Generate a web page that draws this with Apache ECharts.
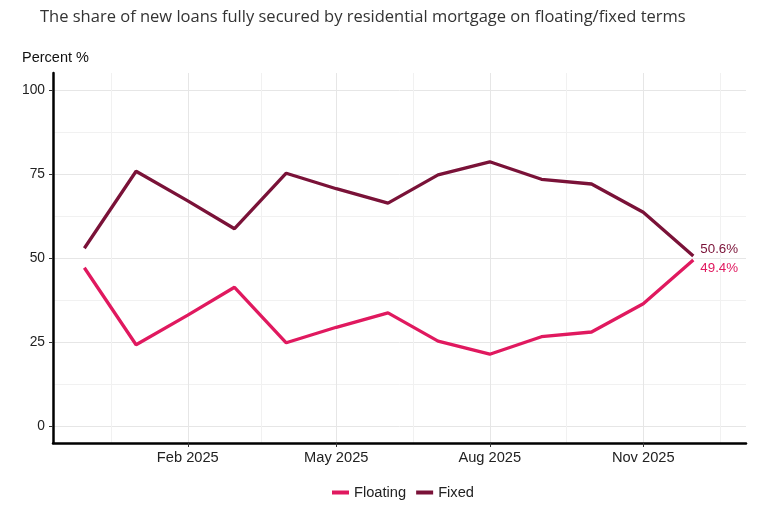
<!DOCTYPE html>
<html><head><meta charset="utf-8">
<script src="https://cdn.jsdelivr.net/npm/echarts@6/dist/echarts.min.js"></script>
<style>html,body{margin:0;padding:0;background:#fff}#c{width:760px;height:505px}</style>
</head><body><div id="c"></div>
<script>
const months = ['2024-12','2025-01','2025-02','2025-03','2025-04','2025-05','2025-06','2025-07','2025-08','2025-09','2025-10','2025-11','2025-12'];
const floating = [47.1, 24.2, 33.0, 41.3, 24.8, 29.4, 33.7, 25.3, 21.4, 26.6, 28.0, 36.4, 49.4];
const fixed    = [52.9, 75.8, 67.0, 58.7, 75.2, 70.6, 66.3, 74.7, 78.6, 73.4, 72.0, 63.6, 50.6];
const xTickDates = ['2025-02-01','2025-05-01','2025-08-01','2025-11-01'];
const xMinorDates = ['2024-12-17','2025-03-17','2025-06-16','2025-09-16','2025-12-17'];
const yTicks = [0, 25, 50, 75, 100];
const yMinorTicks = [12.5, 37.5, 62.5, 87.5];
const monthNames = ['Jan','Feb','Mar','Apr','May','Jun','Jul','Aug','Sep','Oct','Nov','Dec'];

function ts(s){ const p = s.split('-').map(Number); return Date.UTC(p[0], p[1]-1, p[2]||1); }
const xMin = ts('2024-11-12') + 5*3600e3;
const xMax = ts('2026-01-01') + 14*3600e3;
const FONT = '"Liberation Sans", Arial, sans-serif';
const PINK = '#E0195F', MAROON = '#7A1238';

const chart = echarts.init(document.getElementById('c'), null, {renderer:'canvas'});
chart.setOption({
  animation:false,
  backgroundColor:'#fff',
  title:[
    {text:'The share of new loans fully secured by residential mortgage on floating/fixed terms', left:35, top:4,
     textStyle:{fontFamily:'"Open Sans", sans-serif', fontSize:16.5, fontWeight:'normal', color:'#333'}},
    {text:'Percent %', left:17, top:45, textStyle:{fontFamily:FONT, fontSize:14.5, fontWeight:'normal', color:'#111'}}
  ],
  grid:{left:53, right:14, top:73, bottom:62, containLabel:false},
  legend:{data:['Floating','Fixed'], top:480, left:327, icon:'rect', itemWidth:17, itemHeight:4, itemGap:10,
    textStyle:{fontFamily:FONT, fontSize:14.67, color:'#222'}},
  xAxis:[{
    type:'value', min:xMin, max:xMax, position:'bottom',
    axisLine:{show:true, onZero:false, lineStyle:{color:'#000', width:2.5}},
    axisTick:{show:true, customValues:xTickDates.map(ts), length:4, lineStyle:{color:'#333'}},
    axisLabel:{customValues:xTickDates.map(ts), fontFamily:FONT, fontSize:14.67, color:'#222', margin:7,
      formatter:v=>{const d=new Date(v); return monthNames[d.getUTCMonth()]+' '+d.getUTCFullYear();}},
    splitLine:{show:true, lineStyle:{color:'#e6e6e6', width:1}}
  },{
    type:'value', min:xMin, max:xMax, position:'top',
    axisLine:{show:false}, axisTick:{show:false, customValues:xMinorDates.map(ts)},
    axisLabel:{show:false, customValues:xMinorDates.map(ts)},
    splitLine:{show:true, lineStyle:{color:'#f1f1f1', width:1}}
  }],
  yAxis:[{
    type:'value', min:-5, max:105, position:'left',
    axisLine:{show:true, onZero:false, lineStyle:{color:'#000', width:2.5}},
    axisTick:{show:true, customValues:yTicks, length:4, lineStyle:{color:'#333'}},
    axisLabel:{customValues:yTicks, fontFamily:FONT, fontSize:13.8, color:'#222', margin:8},
    splitLine:{show:true, lineStyle:{color:'#e6e6e6', width:1}}
  },{
    type:'value', min:-5, max:105, position:'right',
    axisLine:{show:false}, axisTick:{show:false, customValues:yMinorTicks},
    axisLabel:{show:false, customValues:yMinorTicks},
    splitLine:{show:true, lineStyle:{color:'#f1f1f1', width:1}}
  }],
  series:[{
    name:'Floating', type:'line', xAxisIndex:0, yAxisIndex:0, showSymbol:false, symbol:'none',
    data:months.map((m,i)=>[ts(m), floating[i]]),
    lineStyle:{color:PINK, width:3.3}, itemStyle:{color:PINK},
    endLabel:{show:true, formatter:p=>p.value[1].toFixed(1)+'%', color:PINK, fontFamily:FONT, fontSize:13.33, offset:[-1,8]}
  },{
    name:'Fixed', type:'line', xAxisIndex:0, yAxisIndex:0, showSymbol:false, symbol:'none',
    data:months.map((m,i)=>[ts(m), fixed[i]]),
    lineStyle:{color:MAROON, width:3.3}, itemStyle:{color:MAROON},
    endLabel:{show:true, formatter:p=>p.value[1].toFixed(1)+'%', color:MAROON, fontFamily:FONT, fontSize:13.33, offset:[-1,-7]}
  }]
});
</script></body></html>
